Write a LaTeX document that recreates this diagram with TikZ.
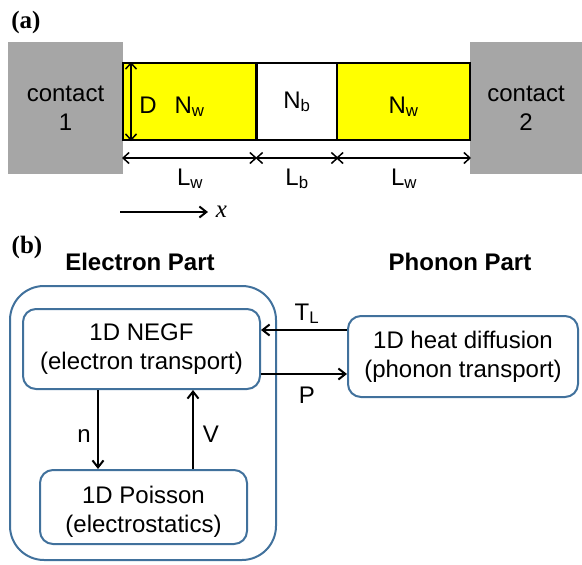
\documentclass[tikz,border=0pt]{standalone}
\usepackage{fontspec}
\setmainfont{Liberation Sans}
\newfontfamily\serifbold{Liberation Serif}
\usetikzlibrary{arrows.meta,positioning}
\definecolor{contactgray}{RGB}{166,166,166}
\definecolor{wellyellow}{RGB}{255,255,0}
\definecolor{boxblue}{RGB}{65,113,156}

\begin{document}
\begin{tikzpicture}[
  x=1pt, y=-1pt,
  font=\fontsize{24}{29}\selectfont,
  contact/.style={rectangle, fill=contactgray, align=center, inner sep=0pt,
                  minimum height=132},
  well/.style={rectangle, draw=black, line width=2, fill=wellyellow,
               minimum width=133, minimum height=77, inner sep=0pt,
               text height=23, text depth=0},
  barrier/.style={rectangle, draw=black, line width=2, fill=white,
                  minimum width=81, minimum height=77, inner sep=0pt,
                  text height=13, text depth=0},
  dim/.style={{Straight Barb[length=6,width=11]}-{Straight Barb[length=6,width=11]}, line width=1.5},
  arr/.style={-{Straight Barb[length=7,width=11]}, line width=2},
  outerbox/.style={rectangle, draw=boxblue, line width=2, rounded corners=34,
                   minimum width=266, minimum height=274},
  box/.style={rectangle, draw=boxblue, line width=2, rounded corners=13,
              align=center, inner sep=0pt},
  lab/.style={anchor=base, inner sep=0pt},
  panel/.style={lab, font=\serifbold\bfseries\fontsize{25}{29}\selectfont},
  head/.style={lab, font=\bfseries\fontsize{24}{29}\selectfont}
]
\useasboundingbox (0,0) rectangle (582,565);

% (a) device
\node[panel] (pa) at (26,28) {(a)};
\node[contact, minimum width=115] (c1) at (65.5,108) {contact\\1};
\node[contact, minimum width=112] (c2) at (526,108) {contact\\2};
\node[well] (w1) at (189.5,101.5) {N\textsubscript{w}};
\node[barrier] (bar) at (297,101.5) {N\textsubscript{b}};
\node[well] (w2) at (403.5,101.5) {N\textsubscript{w}};
\draw[dim] ([xshift=9]w1.south west) -- ([xshift=9]w1.north west);
\node[lab] (dlab) at (148,113) {D};
\draw[dim] ([yshift=-17]w1.south west) -- ([yshift=-17]w1.south east);
\draw[dim] ([yshift=-17]bar.south west) -- ([yshift=-17]bar.south east);
\draw[dim] ([yshift=-17]w2.south west) -- ([yshift=-17]w2.south east);
\node[lab] (lw1) at (190,185) {L\textsubscript{w}};
\node[lab] (lb) at (297,185) {L\textsubscript{b}};
\node[lab] (lw2) at (404,185) {L\textsubscript{w}};
\coordinate (xstart) at (120,212);
\coordinate (xend) at (208,212);
\draw[arr] (xstart) -- (xend);
\node[lab, font=\serifbold\itshape\fontsize{25}{29}\selectfont] (xlab) at (221.5,217) {x};

% (b) coupled solver
\node[panel] (pb) at (27,253) {(b)};
\node[head] (ehead) at (140,270) {Electron Part};
\node[head] (phead) at (460,270) {Phonon Part};
\node[outerbox] (elec) at (143,423) {};
\node[box, minimum width=237, minimum height=80] (negf) at (141.5,349)
  {1D NEGF\\(electron transport)};
\node[box, minimum width=207, minimum height=74] (pois) at (143.5,507)
  {\rule{0pt}{26pt}1D Poisson\\(electrostatics)};
\node[box, minimum width=230, minimum height=81] (heat) at (463,356.5)
  {1D heat diffusion\\(phonon transport)};
\draw[arr] ([yshift=26.5]heat.west) -- ([yshift=26.5]heat.west -| negf.east);
\draw[arr] ([yshift=-25]negf.east) -- ([yshift=-25]negf.east -| heat.west);
\node[lab] (tl) at (307,320) {T\textsubscript{L}};
\node[lab] (plab) at (307,403) {P};
\draw[arr] ([xshift=-43.5]negf.south) -- ([xshift=-43.5]negf.south |- pois.north);
\draw[arr] ([xshift=51.5]negf.south |- pois.north) -- ([xshift=51.5]negf.south);
\node[lab] (nlab) at (84,442) {n};
\node[lab] (vlab) at (211,442) {V};
\end{tikzpicture}
\end{document}
